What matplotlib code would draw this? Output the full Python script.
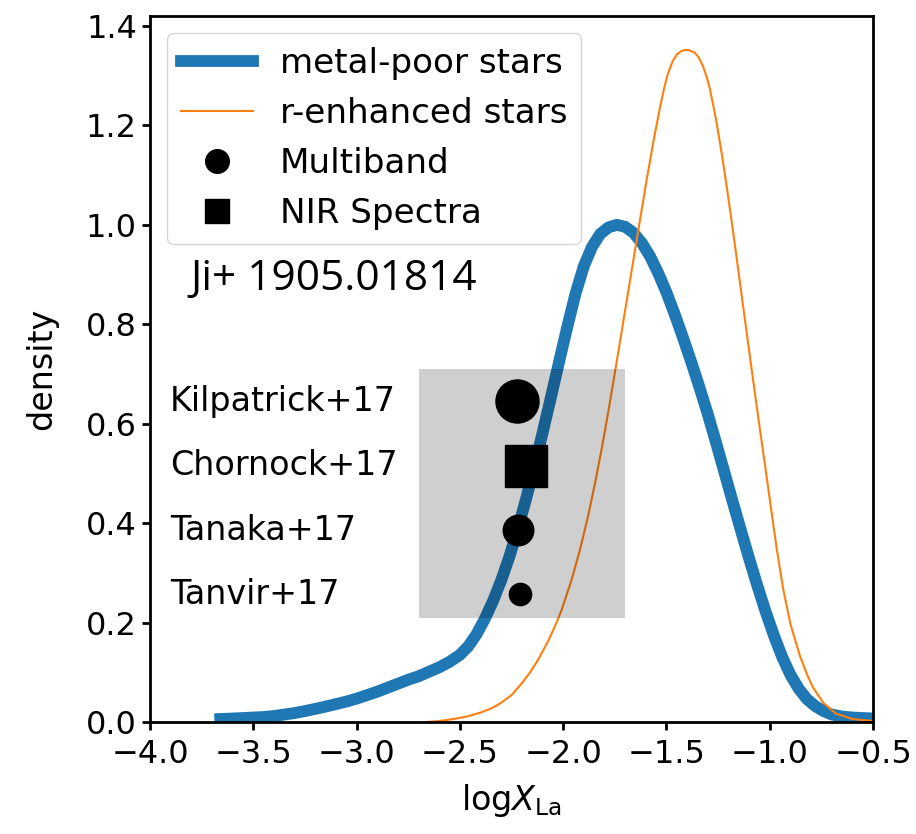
import matplotlib

matplotlib.use("Agg")
import matplotlib.pyplot as plt

# KDE of log X_La for metal-poor stars
mp_x = [-3.66, -3.60, -3.55, -3.50, -3.45, -3.40, -3.35, -3.30, -3.25, -3.193,
        -3.15, -3.10, -3.05, -3.00, -2.95, -2.90, -2.85, -2.80, -2.75, -2.70,
        -2.65, -2.60, -2.55, -2.50, -2.46, -2.42, -2.38, -2.34, -2.30, -2.26,
        -2.22, -2.18, -2.14, -2.10, -2.06, -2.02, -1.98, -1.94, -1.90, -1.86,
        -1.82, -1.78, -1.74, -1.70, -1.66, -1.62, -1.58, -1.54, -1.50, -1.46,
        -1.42, -1.38, -1.34, -1.30, -1.26, -1.22, -1.18, -1.14, -1.10, -1.06,
        -1.02, -0.98, -0.94, -0.90, -0.86, -0.82, -0.78, -0.74, -0.70, -0.65,
        -0.60, -0.55, -0.50]
mp_y = [0.006, 0.007, 0.008, 0.009, 0.010, 0.012, 0.015, 0.018, 0.022, 0.027,
        0.031, 0.036, 0.041, 0.047, 0.054, 0.061, 0.069, 0.077, 0.085, 0.092,
        0.101, 0.110, 0.121, 0.135, 0.152, 0.176, 0.207, 0.243, 0.285, 0.333,
        0.388, 0.448, 0.513, 0.581, 0.652, 0.724, 0.795, 0.862, 0.917, 0.956,
        0.982, 0.995, 1.000, 0.996, 0.984, 0.964, 0.937, 0.903, 0.864, 0.820,
        0.773, 0.724, 0.673, 0.619, 0.562, 0.503, 0.444, 0.386, 0.329, 0.274,
        0.222, 0.174, 0.131, 0.095, 0.067, 0.046, 0.032, 0.022, 0.015, 0.011,
        0.009, 0.008, 0.007]

# KDE of log X_La for r-process enhanced stars
re_x = [-2.66, -2.60, -2.53, -2.466, -2.40, -2.35, -2.306, -2.25, -2.20, -2.16,
        -2.12, -2.07, -2.03, -2.007, -1.96, -1.919, -1.88, -1.846, -1.812, -1.782,
        -1.754, -1.725, -1.693, -1.661, -1.628, -1.596, -1.563, -1.531, -1.51,
        -1.493, -1.47, -1.449, -1.43, -1.41, -1.39, -1.362, -1.343, -1.323,
        -1.305, -1.29, -1.26, -1.231, -1.207, -1.183, -1.164, -1.144, -1.11,
        -1.08, -1.05, -1.02, -0.994, -0.965, -0.936, -0.90, -0.854, -0.82,
        -0.79, -0.74, -0.68, -0.60, -0.50]
re_y = [0.000, 0.002, 0.006, 0.011, 0.019, 0.027, 0.037, 0.054, 0.078, 0.100,
        0.126, 0.165, 0.202, 0.226, 0.285, 0.346, 0.413, 0.480, 0.553, 0.623,
        0.692, 0.765, 0.846, 0.927, 1.010, 1.090, 1.168, 1.237, 1.277,
        1.304, 1.329, 1.343, 1.349, 1.352, 1.351, 1.346, 1.336, 1.319,
        1.297, 1.274, 1.212, 1.140, 1.073, 1.003, 0.945, 0.883, 0.778,
        0.686, 0.596, 0.508, 0.430, 0.345, 0.270, 0.197, 0.133, 0.096,
        0.069, 0.038, 0.017, 0.006, 0.002]

# kilonova measurements
obs_names = ["Kilpatrick+17", "Chornock+17", "Tanaka+17", "Tanvir+17"]
obs_x = [-2.222, -2.181, -2.221, -2.21]
obs_y = [0.645, 0.515, 0.386, 0.257]
obs_marker = ["o", "s", "o", "o"]
obs_size = [31, 30, 22, 16]

plt.rcParams["font.size"] = 24

fig = plt.figure(figsize=(9.16, 8.34), dpi=100)
ax = fig.add_axes([0.1638, 0.1343, 0.7893, 0.8465])

ax.plot(mp_x, mp_y, color="C0", lw=8.5, label="metal-poor stars")
ax.plot(re_x, re_y, color="C1", lw=1.5, label="r-enhanced stars")

# range of kilonova estimates
ax.fill_between([-2.7, -1.7], 0.21, 0.71, color="k", alpha=0.19, lw=0, zorder=3)

for name, x, y, m, s in zip(obs_names, obs_x, obs_y, obs_marker, obs_size):
    ax.plot(x, y, m, color="k", ms=s, zorder=4)
    ax.text(-3.903, y, name, va="center", ha="left", fontsize=24)

ax.plot([], [], "o", color="k", ms=17, label="Multiband")
ax.plot([], [], "s", color="k", ms=17, label="NIR Spectra")

ax.text(-3.806, 0.892, "Ji+ 1905.01814", fontsize=30.5, family="Open Sans",
        va="center", ha="left")

ax.legend(loc="upper left", fontsize=24.6, handlelength=2.1, labelspacing=0.5)

ax.set_xlim(-4, -0.5)
ax.set_ylim(0, 1.42)
ax.set_xticks([-4.0, -3.5, -3.0, -2.5, -2.0, -1.5, -1.0, -0.5])
ax.set_yticks([0.0, 0.2, 0.4, 0.6, 0.8, 1.0, 1.2, 1.4])
ax.set_xlabel(r"log$X_{\rm La}$", labelpad=9)
ax.set_ylabel("density", labelpad=20)
ax.tick_params(width=2, length=6, labelsize=23)
ax.tick_params(axis="x", pad=6)
for sp in ax.spines.values():
    sp.set_linewidth(2)

fig.savefig("out.png", dpi=100)
